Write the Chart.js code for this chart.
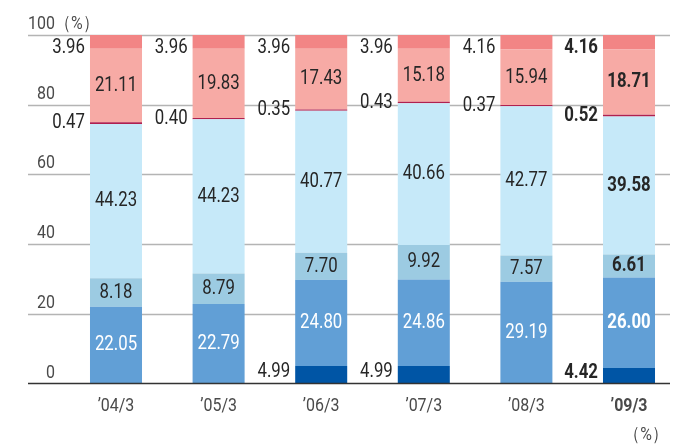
<!DOCTYPE html>
<html>
<head>
<meta charset="utf-8">
<script src="https://cdn.jsdelivr.net/npm/chart.js@4"></script>
<style>
  html, body { margin: 0; padding: 0; background: #fff; }
  #wrap { width: 693px; height: 444px; }
</style>
</head>
<body>
<div id="wrap"><canvas id="chart"></canvas></div>
<script>
// ---------- DATA ----------
const categories = ["\u201904/3", "\u201905/3", "\u201906/3", "\u201907/3", "\u201908/3", "\u201909/3"];
const darkBlue  = [null, null, 4.99, 4.99, null, 4.42];
const midBlue   = [22.05, 22.79, 24.80, 24.86, 29.19, 26.00];
const paleBlue  = [8.18, 8.79, 7.70, 9.92, 7.57, 6.61];
const lightBlue = [44.23, 44.23, 40.77, 40.66, 42.77, 39.58];
const thinRed   = [0.47, 0.40, 0.35, 0.43, 0.37, 0.52];
const pink      = [21.11, 19.83, 17.43, 15.18, 15.94, 18.71];
const topPink   = [3.96, 3.96, 3.96, 3.96, 4.16, 4.16];
const yTicks    = [0, 20, 40, 60, 80, 100];

const FONT = "Roboto, 'Noto Sans', sans-serif";
const boldIndex = 5;   // latest year drawn in bold

// ---------- DATASETS ----------
// place: "in" = centred in bar, "out" = to the left of the bar
const series = [
    { data: darkBlue,  color: "#0055a5", place: "out", text: "#262626", dy: -3 },
    { data: midBlue,   color: "#619fd6", place: "in",  text: "#fff",    dy: 0 },
    { data: paleBlue,  color: "#9ccbe2", place: "in",  text: "#262626", dy: 0 },
    { data: lightBlue, color: "#c6e9f9", place: "in",  text: "#262626", dy: 0 },
    { data: thinRed,   color: "#b0204f", place: "out", text: "#262626", dy: 0 },
    { data: pink,      color: "#f7aaa5", place: "in",  text: "#262626", dy: 0 },
    { data: topPink,   color: "#f28585", place: "out", text: "#262626", dy: 6 }
];

// squeezed text helper (condensed look)
function drawText(ctx, str, x, y, align, squeeze) {
    ctx.save();
    ctx.translate(x, y);
    ctx.scale(squeeze, 1);
    ctx.textAlign = align;
    ctx.fillText(str, 0, 0);
    ctx.restore();
}

// ---------- OVERLAY: grid, ticks, labels ----------
const overlay = {
    id: "overlay",
    beforeDatasetsDraw(chart) {
        const ctx = chart.ctx;
        const y = chart.scales.y;
        ctx.save();
        ctx.strokeStyle = "#b4b4b4";
        ctx.lineWidth = 1.5;
        yTicks.forEach(v => {
            if (v === 0) return;
            const py = Math.round(y.getPixelForValue(v)) + 0.5;
            ctx.beginPath();
            ctx.moveTo(28, py);
            ctx.lineTo(670, py);
            ctx.stroke();
        });
        ctx.restore();
    },
    afterDatasetsDraw(chart) {
        const ctx = chart.ctx;
        const x = chart.scales.x;
        const y = chart.scales.y;
        ctx.save();

        // baseline
        const by = y.getPixelForValue(0);
        ctx.strokeStyle = "#333";
        ctx.lineWidth = 1.5;
        ctx.beginPath();
        ctx.moveTo(28, by);
        ctx.lineTo(670, by);
        ctx.stroke();

        // y tick labels, above each line
        ctx.fillStyle = "#4a4a4a";
        ctx.font = "19px " + FONT;
        ctx.textBaseline = "alphabetic";
        yTicks.forEach(v => {
            const py = y.getPixelForValue(v) - 6;
            drawText(ctx, String(v), 55, py, "right", 0.84);
            if (v === 100) drawText(ctx, "\uff08%\uff09", 55, py, "left", 0.84);
        });

        // category labels
        ctx.textBaseline = "middle";
        categories.forEach((c, i) => {
            ctx.font = (i === boldIndex ? "bold " : "") + "19px " + FONT;
            drawText(ctx, c, x.getPixelForValue(i), 406, "center", 0.84);
        });

        // unit bottom right
        ctx.font = "19px " + FONT;
        drawText(ctx, "\uff08%\uff09", 668, 435, "right", 0.84);

        // value labels
        series.forEach((s, di) => {
            const meta = chart.getDatasetMeta(di);
            meta.data.forEach((bar, i) => {
                const v = s.data[i];
                if (v == null) return;
                const cy = (bar.y + bar.base) / 2 + s.dy;
                ctx.font = (i === boldIndex ? "bold " : "") + "21px " + FONT;
                ctx.fillStyle = s.text;
                ctx.textBaseline = "middle";
                if (s.place === "in") {
                    drawText(ctx, v.toFixed(2), bar.x, cy, "center", 0.8);
                } else {
                    drawText(ctx, v.toFixed(2), bar.x - bar.width / 2 - 5, cy, "right", 0.8);
                }
            });
        });
        ctx.restore();
    }
};

// ---------- CHART ----------
new Chart(document.getElementById("chart"), {
    type: "bar",
    data: {
        labels: categories,
        datasets: series.map(s => ({
            data: s.data,
            backgroundColor: s.color,
            borderWidth: 0,
            categoryPercentage: 1,
            barPercentage: 0.507
        }))
    },
    options: {
        responsive: true,
        maintainAspectRatio: false,
        animation: false,
        layout: { padding: { left: 64.7, right: 12.7, top: 35, bottom: 60.5 } },
        plugins: { legend: { display: false }, tooltip: { enabled: false } },
        scales: {
            x: { stacked: true, display: false },
            y: { stacked: true, display: false, min: 0, max: 100 }
        }
    },
    plugins: [overlay]
});
</script>
</body>
</html>
